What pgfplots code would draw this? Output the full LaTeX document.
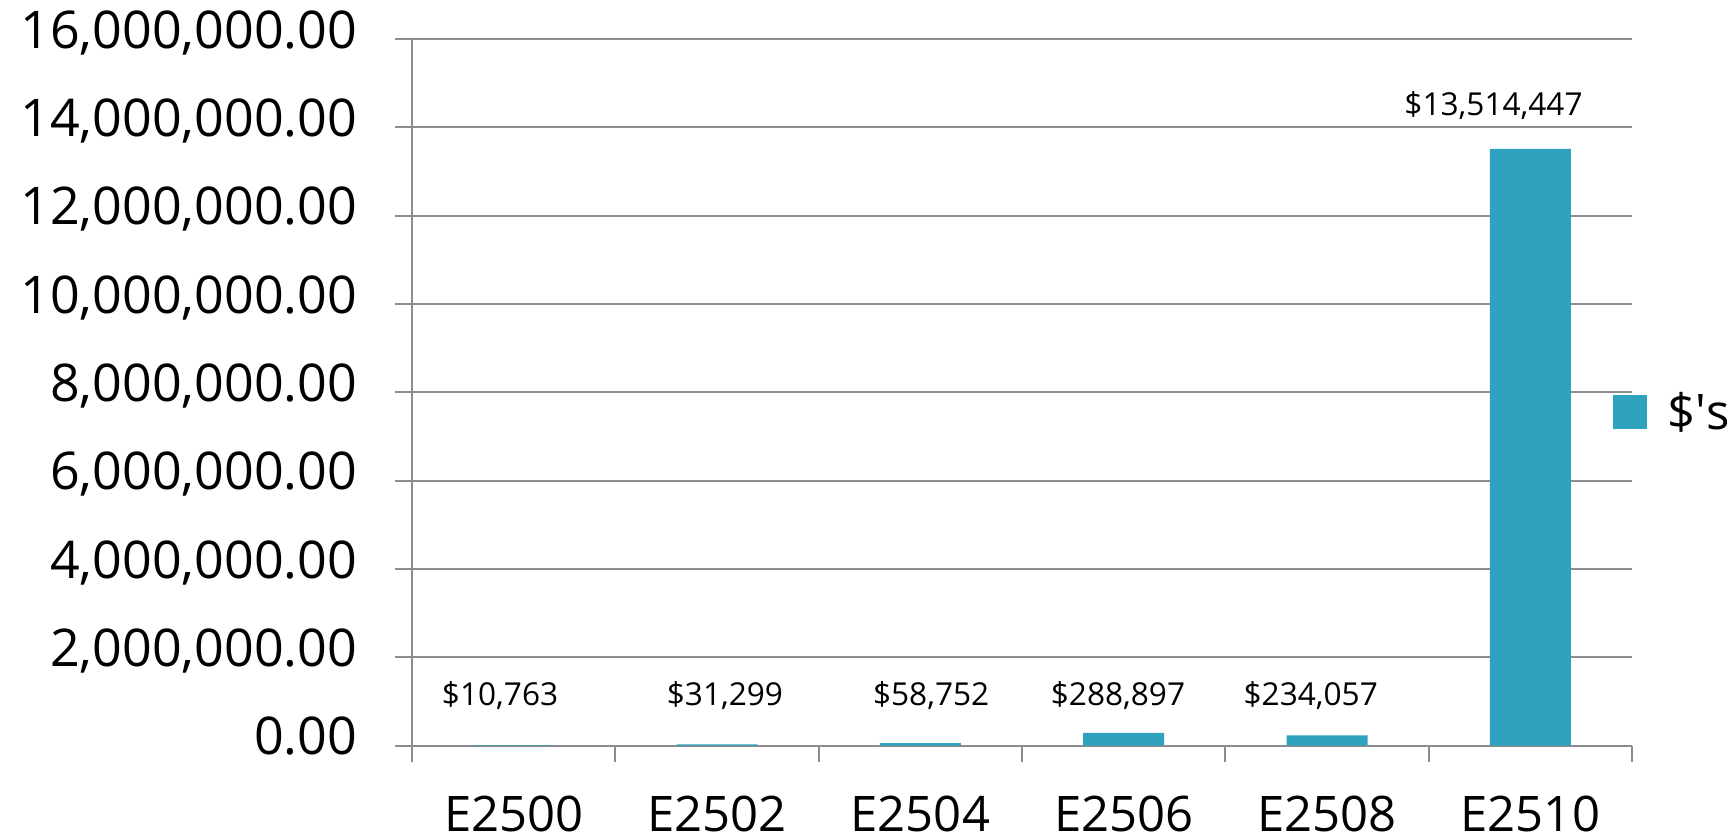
\documentclass[border=0pt]{standalone}
\usepackage{pgfplots}
\pgfplotsset{compat=1.18}
\usepackage{fontspec}
\setmainfont{Open Sans}
\definecolor{barc}{RGB}{46,162,191}
\definecolor{gridc}{RGB}{140,140,140}
\begin{document}
\begin{tikzpicture}
\useasboundingbox (0,0) rectangle (864.5pt,419pt);
\begin{axis}[
  at={(206pt,46.15pt)}, anchor=south west,
  scale only axis, width=610pt, height=353.35pt,
  xmin=-0.5, xmax=5.5, ymin=0, ymax=16000000,
  axis x line=bottom, axis y line=left,
  axis line style={draw=gridc, line width=1pt, -},
  xtick={0,...,5},
  xticklabels={E2500,E2502,E2504,E2506,E2508,E2510},
  minor xtick={-0.5,0.5,...,5.5},
  ytick={0,2000000,...,16000000},
  tick align=outside,
  minor tick length=8pt, major tick length=8.5pt,
  every tick/.style={gridc, line width=1pt},
  major x tick style={draw=none},
  ymajorgrids, major grid style={gridc, line width=1pt},
  scaled y ticks=false,
  /pgf/number format/fixed,
  /pgf/number format/fixed zerofill,
  /pgf/number format/precision=2,
  /pgf/number format/1000 sep={,},
  /pgf/number format/assume math mode=true,
  y tick label style={anchor=base east, inner sep=0pt, font=\fontsize{26pt}{30pt}\selectfont, xshift=-18.75pt, yshift=-4.65pt},
  x tick label style={anchor=base, inner sep=0pt, font=\fontsize{24.5pt}{29pt}\selectfont, yshift=-34.6pt},
  legend style={at={(0.9844,0.472)}, anchor=west, draw=none, fill=none, inner sep=0pt,
    column sep=10pt, nodes={inner sep=0pt}, font=\fontsize{24.5pt}{29pt}\selectfont},
  legend image code/.code={\fill[barc] (0pt,-8.5pt) rectangle (17pt,8.5pt);},
]
\addplot[ybar, bar width=40.5pt, fill=barc, draw=none]
  coordinates {(0,10763) (1,31299) (2,58752) (3,288897) (4,234057) (5,13514447)};
\addlegendentry{\$\textquotesingle s}
\addplot[draw=none, mark=none, forget plot, nodes near coords, point meta=explicit symbolic,
  nodes near coords style={anchor=base, inner sep=0pt, font=\fontsize{15.8pt}{18pt}\selectfont}]
  coordinates {
    (-0.067,899000) [\$10,763]
    (1.039,899000) [\$31,299]
    (2.053,899000) [\$58,752]
    (2.972,899000) [\$288,897]
    (3.92,899000) [\$234,057]
    (4.819,14263000) [\$13,514,447]
  };
\end{axis}
\end{tikzpicture}
\end{document}
